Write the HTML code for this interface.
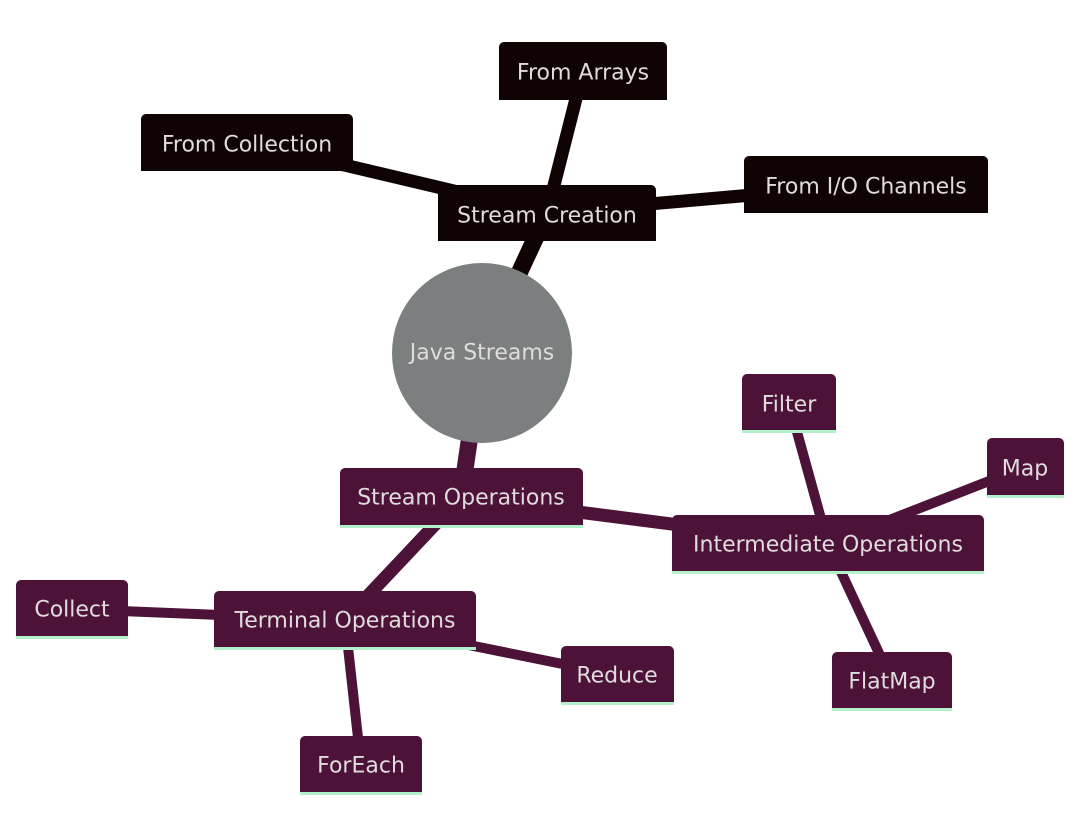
<!DOCTYPE html>
<html><head><meta charset="utf-8"><style>
html,body{margin:0;padding:0;background:#fff;}
svg{display:block;}
text{font-family:"DejaVu Sans","Liberation Sans",sans-serif;font-size:22px;fill:#e0dcdc;text-anchor:middle;dominant-baseline:central;}
</style></head><body>
<svg width="1080" height="837" viewBox="0 0 1080 837" xmlns="http://www.w3.org/2000/svg">
<g stroke-linecap="butt">
<g stroke="#0f0304">
<line x1="482" y1="353" x2="547" y2="213" stroke-width="17"/>
<line x1="547" y1="213" x2="583" y2="71" stroke-width="13"/>
<line x1="547" y1="213" x2="247" y2="142" stroke-width="13"/>
<line x1="547" y1="213" x2="866" y2="185" stroke-width="13"/>
</g>
<g stroke="#4d1237">
<line x1="482" y1="353" x2="461" y2="497" stroke-width="17"/>
<line x1="461" y1="497" x2="828" y2="544" stroke-width="13"/>
<line x1="461" y1="497" x2="345" y2="620" stroke-width="13"/>
<line x1="828" y1="544" x2="789" y2="403" stroke-width="10"/>
<line x1="828" y1="544" x2="1025" y2="467" stroke-width="10"/>
<line x1="828" y1="544" x2="892" y2="681" stroke-width="10"/>
<line x1="345" y1="620" x2="72" y2="609" stroke-width="10"/>
<line x1="345" y1="620" x2="617" y2="675" stroke-width="10"/>
<line x1="345" y1="620" x2="361" y2="765" stroke-width="10"/>
</g>
</g>
<circle cx="482" cy="353" r="90" fill="#7b7f7f"/>
<text x="482" y="353">Java Streams</text>
<g fill="#0f0304">
<rect x="499" y="42" width="168" height="58" rx="5"/><rect x="499" y="80" width="168" height="20"/>
<rect x="141" y="114" width="212" height="57" rx="5"/><rect x="141" y="150" width="212" height="21"/>
<rect x="438" y="185" width="218" height="56" rx="5"/><rect x="438" y="220" width="218" height="21"/>
<rect x="744" y="156" width="244" height="57" rx="5"/><rect x="744" y="190" width="244" height="23"/>
</g>
<text x="583" y="73">From Arrays</text>
<text x="247" y="145">From Collection</text>
<text x="547" y="216">Stream Creation</text>
<text x="866" y="187">From I/O Channels</text>
<g fill="#b3f0cc">
<rect x="340" y="522" width="243" height="6"/>
<rect x="672" y="568" width="312" height="6"/>
<rect x="742" y="427" width="94" height="6"/>
<rect x="987" y="492" width="77" height="6"/>
<rect x="832" y="705" width="120" height="6"/>
<rect x="214" y="644" width="262" height="6"/>
<rect x="16" y="633" width="112" height="6"/>
<rect x="561" y="699" width="113" height="6"/>
<rect x="300" y="789" width="122" height="6"/>
</g>
<g fill="#4d1237">
<rect x="340" y="468" width="243" height="57" rx="5"/><rect x="340" y="500" width="243" height="25"/>
<rect x="672" y="515" width="312" height="56" rx="5"/><rect x="672" y="545" width="312" height="26"/>
<rect x="742" y="374" width="94" height="56" rx="5"/><rect x="742" y="405" width="94" height="25"/>
<rect x="987" y="438" width="77" height="57" rx="5"/><rect x="987" y="470" width="77" height="25"/>
<rect x="832" y="652" width="120" height="56" rx="5"/><rect x="832" y="685" width="120" height="23"/>
<rect x="214" y="591" width="262" height="56" rx="5"/><rect x="214" y="620" width="262" height="27"/>
<rect x="16" y="580" width="112" height="56" rx="5"/><rect x="16" y="610" width="112" height="26"/>
<rect x="561" y="646" width="113" height="56" rx="5"/><rect x="561" y="676" width="113" height="26"/>
<rect x="300" y="736" width="122" height="56" rx="5"/><rect x="300" y="766" width="122" height="26"/>
</g>
<text x="461" y="498">Stream Operations</text>
<text x="828" y="545">Intermediate Operations</text>
<text x="789" y="405">Filter</text>
<text x="1025" y="469">Map</text>
<text x="892" y="682">FlatMap</text>
<text x="345" y="621">Terminal Operations</text>
<text x="72" y="610">Collect</text>
<text x="617" y="676">Reduce</text>
<text x="361" y="766">ForEach</text>
</svg>
</body></html>
